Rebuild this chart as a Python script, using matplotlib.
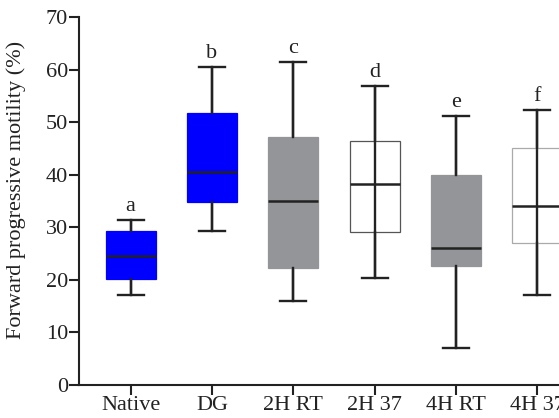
import matplotlib
matplotlib.use("Agg")
import matplotlib.pyplot as plt

categories = ["Native", "DG", "2H RT", "2H 37", "4H RT", "4H 37"]
whisker_low = [17.2, 29.3, 15.9, 20.3, 7.05, 17.2]
q1 = [20.1, 34.9, 22.2, 29.1, 22.7, 27.0]
median = [24.6, 40.6, 35.1, 38.2, 26.1, 34.0]
q3 = [29.3, 51.7, 47.3, 46.5, 40.0, 45.1]
whisker_high = [31.4, 60.6, 61.4, 56.9, 51.2, 52.4]
letters = ["a", "b", "c", "d", "e", "f"]
face_colors = ["#0000FF", "#0000FF", "#939598", "none", "#939598", "none"]
edge_colors = ["#0000FF", "#0000FF", "#939598", "#555555", "#939598", "#AAAAAA"]
y_ticks = [0, 10, 20, 30, 40, 50, 60, 70]

plt.rcParams['font.family'] = ['Liberation Serif', 'DejaVu Serif']
txt_color = "#222222"

fig = plt.figure(figsize=(5.59, 4.18), dpi=100)
ax = fig.add_axes([0.1413, 0.0789, 0.907, 0.8797])

positions = list(range(1, len(categories) + 1))
stats = []
for i, c in enumerate(categories):
    stats.append(dict(label=c, whislo=whisker_low[i], q1=q1[i], med=median[i],
                      q3=q3[i], whishi=whisker_high[i], fliers=[]))

# full-length whisker lines (visible through open boxes)
ax.vlines(positions, whisker_low, whisker_high, colors="#222222", lw=1.7, zorder=1)

bp = ax.bxp(stats, positions=positions, widths=0.615, patch_artist=True,
            showfliers=False, capwidths=0.32,
            whiskerprops=dict(color="#222222", lw=1.7),
            capprops=dict(color="#222222", lw=1.7),
            medianprops=dict(color="#222222", lw=1.8, zorder=4),
            manage_ticks=False)
for i, box in enumerate(bp['boxes']):
    box.set_facecolor(face_colors[i])
    box.set_edgecolor(edge_colors[i])
    box.set_linewidth(0.9)
    box.set_zorder(2)
for cap in bp['caps']:
    cap.set_zorder(3)

for i, p in enumerate(positions):
    ax.annotate(letters[i], (p, whisker_high[i]), xytext=(0, 3),
                textcoords="offset points", ha="center", va="bottom",
                fontsize=16, color=txt_color)

ax.set_xlim(0.365, 6.6)
ax.set_ylim(0, 70)
ax.set_yticks(y_ticks)
ax.set_xticks(positions)
ax.set_xticklabels(categories)
for s in ["top", "right"]:
    ax.spines[s].set_visible(False)
for s in ["left", "bottom"]:
    ax.spines[s].set_linewidth(1.5)
    ax.spines[s].set_color("#222222")
ax.tick_params(axis="both", length=7, width=1.5, color="#222222",
               labelsize=16, labelcolor=txt_color, pad=1)
ax.set_ylabel("Forward progressive motility (%)", fontsize=16, color=txt_color)
ax.yaxis.set_label_coords(-0.105, 0.53)

fig.savefig("out.png", dpi=100)
